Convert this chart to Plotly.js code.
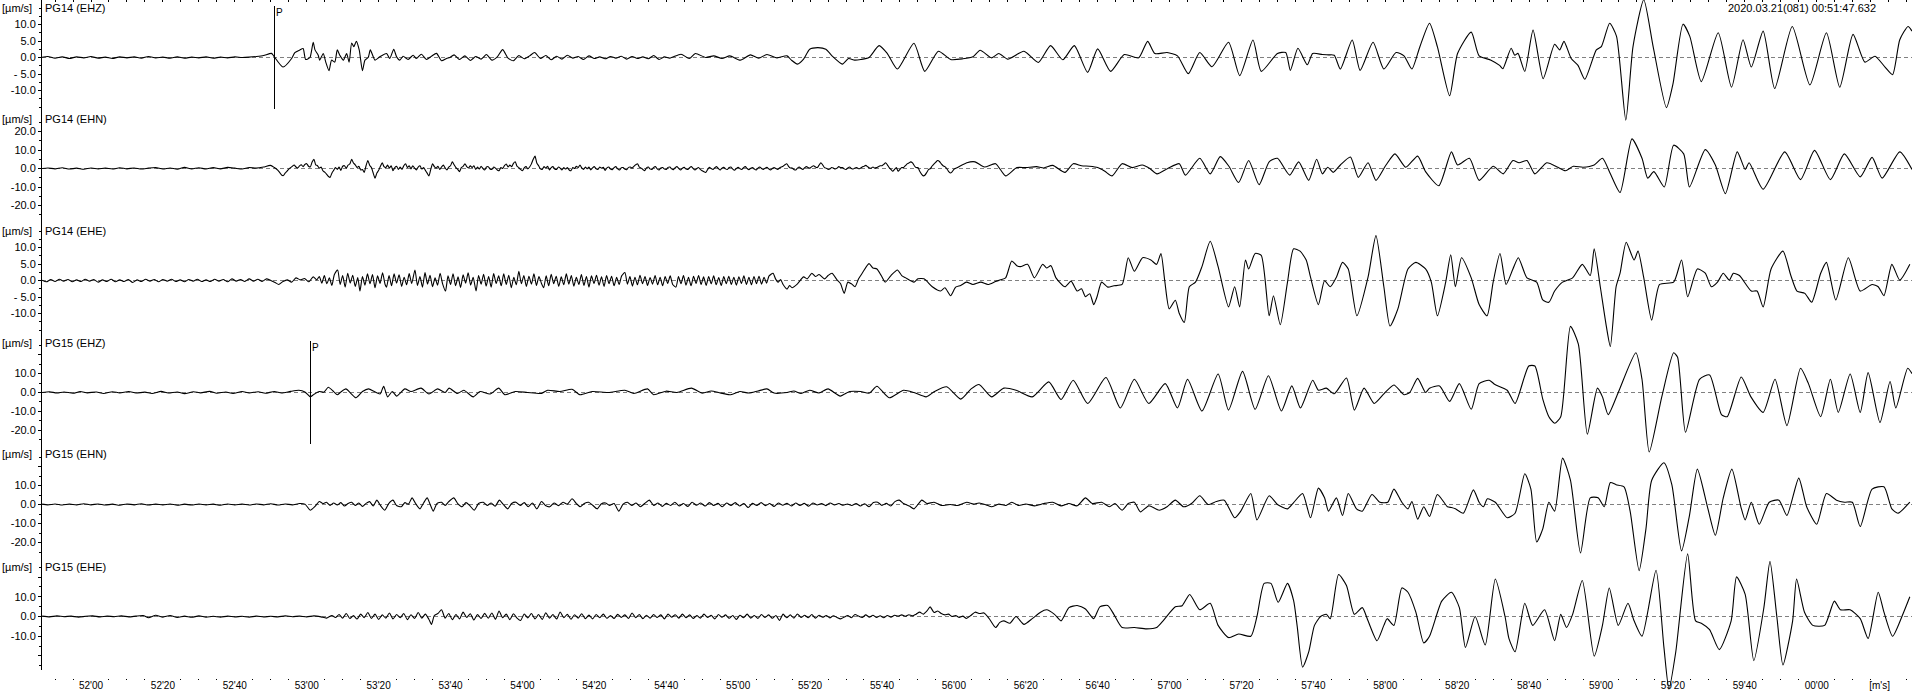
<!DOCTYPE html>
<html><head><meta charset="utf-8">
<script src="https://cdn.plot.ly/plotly-3.0.1.min.js"></script>
<style>html,body{margin:0;padding:0;background:#fff;}#chart{width:1912px;height:691px;}
#chart .shapelayer path{shape-rendering:crispEdges;}</style>
</head><body><div id="chart"></div>
<script>
// ---------------- data (time in s after 00:51:00, velocity in µm/s) ----------------
const CHANNELS = ['PG14 (EHZ)','PG14 (EHN)','PG14 (EHE)','PG15 (EHZ)','PG15 (EHN)','PG15 (EHE)'];
const UNIT_LABEL = '[µm/s]';
const START_STAMP = '2020.03.21(081) 00:51:47.632';

const PG14_EHZ = [[46.4,0.1],[48,0.3],[50,-0.2],[52,0.2],[54,-0.3],[56,0.2],[58,-0.1],[60,0.3],[62,-0.2],[64,0.1],[66,-0.3],[68,0.2],[70,-0.1],[72,0.2],[74,-0.2],[76,0.3],[78,-0.1],[80,0.1],[82,-0.2],[84,0.2],[86,-0.2],[88,0.1],[90,-0.1],[92,0.2],[94,-0.2],[96,0.1],[98,-0.1],[100,0.2],[102,0],[104,0.1],[106,0.3],[108,0.6],
[110.2,1.25],[110.8,0.5],[113.4,-2.9],[115.8,-0.3],[116.7,1.5],[118.1,2.3],[119,2.7],[119.7,-0.6],[120.9,0],[121.8,4.6],[122.3,2.3],[123.2,0.7],[123.6,-0.8],[124.6,1.2],[125.3,-1.4],[126.2,-4],[126.9,-0.8],[127.8,-1.4],[128.5,2.3],[129.2,0.7],[130.2,-0.8],[131.1,1.2],[131.8,-1.4],[132.5,4.4],[133.1,3.3],[133.8,4.9],[134.6,2.3],[135.5,-4],[136.2,-0.8],[137.1,0],[137.7,2.3],[139,-0.8],[140.3,0.2],[142.2,1.2],[143.1,-0.3],[144.2,2.5],[145,0.2],[145.9,-0.8],[146.8,0.4],[148.2,-0.6],[149.6,0.7],[150.5,-0.3],[151.9,1],[153.3,-0.6],[154.7,0.4],[156.1,1.25],[157.5,-1],[158.9,-0.3],[159.8,0],
[161,0.8],[162.5,-0.6],[164,0.5],[165.5,-0.9],[167,0.3],[168.5,-0.5],[170,0.9],[171.5,-0.8],[173,0.2],[174.5,2.4],[176,-0.2],[177.5,-1],[179,0.6],[180.5,-0.4],[182,0.5],[183.4,1.5],[185,-0.3],[186.5,0.6],[188,-0.7],[189.5,0.4],[191,-0.5],[192.5,0.7],[194,-0.2],[195.5,0.3],[197,-0.6],[198.5,0.5],[200,-0.3],[201.5,0.2],[203,-0.4],[204.5,0.3],[206,-0.2],[207.5,0.4],[209,-0.5],[210.5,0.3],[212,-0.3],[213.5,0.2],[215,-0.4],[216.5,0.6],[218,-0.6],[219.5,0.2],[221,-0.2],
[224.1,1],[226.4,-0.3],[228.1,1.2],[231,0],[233.2,0.5],[235.5,-0.3],[237.7,0.5],[240.6,-0.8],[243.4,0.8],[245.7,-0.2],[248,0.9],[250.8,-0.1],[253.6,0.5],[254.8,-0.8],[256.5,-2],[258.2,-0.5],[259.9,2.5],[262.2,3],[264.4,2.5],[266.1,0.5],[269,-2],[270.7,-0.3],[272.4,-0.8],[274.1,-0.6],[276.4,0],[279.2,3.6],[281.5,1.2],[284.3,-3.5],[288.9,4.3],[291.9,-4.2],[295.7,1.9],[299.1,-0.6],[302.5,-0.4],[305.3,0.2],[307.3,2.2],[310.5,-0.1],[312.5,1.2],[315,-0.5],[319.5,1.9],[323.5,-1.5],[326.9,3.6],[330.3,-0.7],[333.5,3.6],[337.2,-4.5],[340,2.6],[343.6,-4.2],[347.4,0.9],[351.4,-0.1],[353.9,4.9],[355.9,1.2],[359.3,1.5],[362.2,0.5],[365.2,-4.9],[368.4,1.5],[371.8,-2.8],[376.4,4.6],[379.5,-5.5],[383.2,5.3],[385.5,-4.2],[390,1.2],[392.3,1.5],[393.6,-3.9],[395.7,2.8],[398.3,-2.2],[399.8,1.2],[402.5,0.9],[404.2,0.8],[405.8,0.7],[407.5,-3.5],[410.8,5.3],[413,-3.9],[416.6,4.6],[419.6,-3.5],[423,1.5],[425.2,0.5],[427.4,-3.5],[429.6,3.2],[432.3,10.4],[434.5,3.2],[437.9,-11.6],[440.1,1.2],[443.9,7.7],[446.1,0.5],[449.4,-0.8],
[451.8,-2.4],[452.7,-3.4],[455,2.8],[456,0.7],[456.9,1.25],[458.8,-4.2],[461.1,8.3],[463.9,-6.4],[467.1,4],[468.5,2.3],[469.7,4.9],[471.7,-0.3],[473.6,-2.4],[475.5,-6.6],[478.7,2.3],[480.1,3.3],[482.4,10.4],[484.3,6.5],[486.9,-19],[488.9,3.3],[491.9,17.5],[494.5,3.3],[498.2,-15.2],[500,-8.1],[502.8,10.1],[504.7,6.4],[507.9,-7.3],[512.6,7.5],[516.3,-9],[519.5,5.4],[521.8,-2.9],[525.1,8],[528.3,-9.4],[533.2,9.4],[538.1,-8.3],[542.7,7.5],[546.4,-9],[550.1,7],[553.4,-1.4],[556.2,0.4],[559,-2.9],[561.1,-5.2],[563.1,5.4],[565.4,9.4],[566.5,8]];

const PG14_EHN = [[46.4,0],[48,0.3],[50,-0.2],[52,0.4],[54,-0.3],[56,0.2],[58,-0.4],[60,0.3],[62,-0.2],[64,0.2],[66,-0.3],[68,0.4],[70,-0.2],[72,0.3],[74,-0.3],[76,0.2],[78,0.5],[80,-0.3],[82,0.3],[84,-0.4],[86,0.6],[88,-0.2],[90,0.4],[92,-0.3],[94,0.5],[96,-0.2],[98,0.6],[100,0.2],[102,-0.3],[104,0.5],[106,0.2],[108,0.8],[109.9,1.7],[111,0.5],
[112,-1],[112.5,-2.2],[113,-3.5],[113.5,-3.8],[114,-2.5],[114.5,-1.5],[115,-0.3],[115.5,0.5],[116,1.2],[116.5,1.9],[117,0.8],[117.5,0.3],[118,1.4],[118.5,2],[119,1],[119.5,2.2],[120,2.6],[120.5,1.2],[121,0.8],[121.5,3.5],[122,5],[122.5,2],[123,1.5],[123.5,0.2],[124,0.8],[124.5,-1.2],[125,-2],[125.5,-3],[126,-4.2],[126.5,-4.8],[127,-2.5],[127.5,-1],[128,0.5],[128.5,-0.5],[129,0.8],[129.5,-1],[130,1.2],[130.5,1.5],[131,0.2],[131.5,1.8],[132,2.5],[132.5,5],[133,3],[133.5,2],[134,0.5],[134.5,1.2],[135,-0.8],[135.5,-0.5],[136,-2.1],[136.5,1.5],[137,4.3],[137.5,1.8],[138,0.5],[138.5,-2.5],[139,-5.2],[139.5,-2.5],[140,-1],[140.5,1.2],[141,3.1],[141.5,1],[142,0.5],[142.5,1.8],[143,0.2],[143.5,1.5],[144,-1.2],[144.5,0.5],[145,1.2],[145.5,-0.5],[146,0.8],[146.5,-0.5],[147,1.5],[147.5,2.6],[148,0.5],[148.5,1.5],[149,-0.2],[149.5,1.5],[150,0.2],[150.5,-0.8],[151,0.8],[151.5,1.5],[152,-0.3],[152.5,0.5],[153,-1],[153.5,-2.5],[154,-4],[154.5,-0.5],[155,2.6],[155.5,1],[156,0.2],[156.5,1.2],[157,-0.5],[157.5,0.8],[158,1.8],[158.5,0.3],[159,-0.8],[159.5,0.8],[160,1.5],[160.5,3.6],[161,2],[161.5,0.5],[162,-0.5],[162.5,-1.7],[163,0.5],[163.5,1.2],[164,2.6],[164.5,1],[165,0.3],[165.5,1.5],[166,0.5],[166.5,1.5],[167,-0.5],[167.5,0.8],[168,-0.3],[168.5,1.2],[169,0],[169.5,-0.8],[170,0.8],[170.5,1],[171,-0.3],[171.5,-0.5],[172,0.8],[172.5,0.2],[173,-0.8],[173.5,-1.2],[174,0.5],[174.5,0],[175,1.5],[175.5,2.4],[176,0.8],[176.5,1.8],[177,1],[177.5,2.8],[178,3.6],[178.5,1.2],[179,0.5],[179.5,-0.5],[180,-1.2],[180.5,0.3],[181,1],[181.5,-0.2],[182,0.8],[182.5,2.5],[183,5],[183.5,6.7],[184,3],[184.5,1.5],[185,-0.2],[185.5,-0.5],[186,1],[186.5,0.2],[187,1.2],[187.5,-0.8],[188,0.5],[188.5,1],[189,-0.3],[189.5,-0.5],[190,0.8],[190.5,0.2],[191,-0.8],[191.5,0.5],[192,-0.3],[192.5,0.5],[193,-0.8],[193.5,-1.2],[194,0.5],[194.5,0],[195,1.2],[195.5,0.5],[196,1.9],[196.5,0.3],[197,-0.5],[197.5,0.8],[198,-0.2],[198.5,0.8],[199,-0.8],[199.5,0.3],[200,1],[200.5,-0.2],[201,-0.5],[201.5,0.8],[202,0.2],[202.5,0.6],[203,-1],[203.5,0.3],[204,0.8],[204.5,-0.3],[205,-0.6],[205.5,0.5],[206,1],[206.5,-0.2],[207,-0.8],[207.5,0.4],[208,0.5],[208.5,-0.4],[209,-0.6],[209.5,0.6],[210,0.8],[210.5,0.2],[211,1.2],[211.5,2],[212,2.6],[212.5,0.8],[213,0.2],[213.5,-0.5],[214,-1.2],[214.5,0.3],[215,0.8],[215.5,-0.2],[216,-0.5],[216.5,0.6],[217,1],[217.5,-0.2],[218,-0.8],[218.5,0.3],[219,0.5],[219.5,-0.3],[220,-0.5],[220.5,0.6],[221,0.8],[221.5,-0.2],[222,-0.6],[222.5,0.5],[223,1],[223.5,0],[224,-0.8],[224.5,0.2],[225,0.6],[225.5,-0.3],[226,-0.5],[226.5,0.5],[227,1],[227.5,0],[228,-0.8],[228.5,0],[229,0.5],[229.5,-0.6],[230,-1.2],[230.5,-1.8],[231,-2.1],[231.5,-0.6],[232,0.6],[232.5,0],[233,-0.5],[233.5,0.4],[234,1],[234.5,0],[235,-0.8],[235.5,0.2],[236,0.6],[236.5,-0.2],[237,-0.5],[237.5,0.5],[238,0.8],[238.5,-0.3],[239,-0.9],[239.5,0],[240,0.6],[240.5,-0.1],[241,-0.5],[241.5,0.5],[242,1],[242.5,0],[243,-0.6],[243.5,0.1],[244,0.5],[244.5,-0.3],[245,-0.8],[245.5,0.2],[246,0.8],[246.5,0],[247,-0.5],[247.5,0.2],[248,0.6],[248.5,-0.2],[249,-0.8],[249.5,0],[250,0.5],[250.5,0],[251,-0.5],[251.5,0.3],[252,0.8],[252.5,1.2],[253,2],[253.5,2.6],[254,1.2],[254.5,0.3],[255,0.3],[255.5,-0.5],[256,-0.8],[256.5,0.2],[257,0.8],[257.5,0],[258,-0.5],[258.5,0.4],[259,1],[259.5,0.5],[260,0.2],[260.5,1],[261,1.5],[261.5,0.8],[262,0.5],[262.5,1.8],[263,3.1],[263.5,2],[264,0.5],[264.5,0.2],[265,-0.5],[265.5,-0.3],[266,0.5],[266.5,0.2],[267,-0.3],[267.5,0.2],[268,1],[268.5,0.5],[269,0.5],[269.5,-0.2],[270,-0.5],[270.5,0.3],[271,0.8],[271.5,0],[272,-0.3],[272.5,0.3],[273,0.5],[273.5,-0.1],[274,0.2],[274.5,0.8],[275,1.2],[275.5,1.7],[276,1],[276.5,0.3],[277,0.2],[277.5,0.8],[278,0.2],[278.5,0.5],[279,1],[279.5,1.5],[280,1.5],[280.5,2.2],[281,3.1],[281.5,2],[282,0.5],[282.5,-0.5],[283,-1.5],[283.5,-0.5],[284,0.5],[284.5,-1.5],[285,-0.5],[285.5,0.5],[286,0.5],[286.5,1.5],[287,2.5],[287.5,3],[288,3.6],[288.5,3],[289,1.5],[289.5,0.5],[290,0.5],[290.5,-1.5],[291,-3],[291.5,-4],[292,-3.5],[292.5,-2],[293,-0.5],[293.5,0],[294,1.5],[294.5,2.5],[295,3.5],[295.5,4.3],[296,3.8],[296.5,2.5],[297,1.5],[297.5,1],[298,0],[298.5,-1.5],[299,-2.4],[299.5,-1.8],[300,-0.5],
[301,0.5],[303.6,3.1],[305.9,3.6],[308.5,0.8],[311.6,2.6],[314.4,-4],[317.5,0.5],[320,0.5],[323,1],[325,0.3],[327.5,1.7],[330.9,-2.1],[333.2,2.6],[335.5,1.5],[337.7,1.2],[340,0.5],[342,-1.5],[344,-4],[346.8,2.6],[349.6,0.5],[352.4,1.9],[354.5,0],[356.5,-2.9],[359.5,0],[362.7,2.6],[364.4,-3.6],[368.4,5.5],[371.3,-2.9],[374.1,6.4],[376.5,1.2],[379.2,-7.6],[382,4.3],[384.9,-8.8],[387.7,3.6],[390,5.5],[393.4,-3.6],[395.9,3.6],[398.7,-6.4],[400.9,5],[402.5,-2.9],[404,0.7],[405.5,-2.1],[407.5,1.9],[410.3,6.2],[412.5,-4.8],[415.2,3.1],[417.4,-6.4],[420.2,1.9],[422.7,7.9],[425.7,0.7],[429,6.7],[431.2,-1.7],[434.9,-9.3],[438.4,9],[440.1,1.9],[443.4,5.5],[446.1,-6.4],[450,1.2],[452.8,-2.9],[455.5,4.3],[457.2,3.1],[459.4,4.3],[461.6,-2.9],[464.9,3.1],[468,0.7],[470.1,-1.2],[472.3,1.2],[475,0.7],[478.1,1.9],[480.4,5.5],[482.6,-2.9],[485.3,-13],[488.6,16],[491.4,5.5],[493,-5.2],[494.7,-1.7],[497.6,-10],[500.2,12.6],[503,7.9],[504.6,-10],[509,10.2],[511.8,1.9],[514.6,-13.6],[517.9,9],[520.1,-0.5],[521.2,3.1],[525.1,-11.2],[531.1,9],[535.5,-6],[539.4,9.8],[543.8,-6],[547.7,7.9],[552.1,-4.5],[555.4,6],[558.2,-5.2],[563.1,9],[566.5,-0.5]];

const PG14_EHE = [[46.4,0.1],[47.6,-0.4],[48.8,0.3],[50,-0.3],[51.2,0.4],[52.4,-0.2],[53.6,0.3],[54.8,-0.4],[56,0.2],[57.2,-0.3],[58.4,0.4],[59.6,-0.2],[60.8,0.3],[62,-0.5],[63.2,0.2],[64.4,-0.3],[65.6,0.4],[66.8,-0.4],[68,0.2],[69.2,-0.3],[70.4,0.3],[71.6,-0.6],[72.8,0.2],[74,-0.3],[75.2,0.4],[76.4,-0.2],[77.6,0.3],[78.8,-0.4],[80,0.3],[81.2,-0.2],[82.4,0.4],[83.6,-0.3],[84.8,0.2],[86,-0.4],[87.2,0.3],[88.4,-0.2],[89.6,0.4],[90.8,-0.3],[92,0.2],[93.2,-0.3],[94.4,0.4],[95.6,-0.2],[96.8,0.3],[98,-0.4],[99.2,0.5],[100.4,-0.2],[101.6,0.3],[102.8,-0.3],[104,0.5],[105.2,-0.2],[106.4,0.4],[107.6,-0.3],[108.8,0.5],[110,0],[111.2,-0.6],[112.2,-1.2],[113.4,-0.3],[114.6,0.2],[115.8,-0.5],[117,0.8],[118.2,0.2],[119.4,0.6],[120.6,-0.4],[121.8,1.1],[122.8,0.2],
[123.5,1.2],[124.2,-0.8],[124.9,1.5],[125.6,-1],[126.3,0.8],[127,-1.5],[127.7,1.8],[128.6,3.2],[129.3,-1.2],[130,1.5],[130.7,-2],[131.4,2.2],[132.1,-0.8],[132.8,1.6],[133.5,-1.8],[134.2,0.9],[134.8,-3.2],[135.5,1.2],[136.2,-1.4],[136.9,2],[137.6,-1],[138.3,1.8],[139,-2.2],[139.7,1.4],[140.4,-0.9],[141.1,2.3],[141.8,-1.2],[142.2,-2],[142.9,1.5],[143.6,-1.6],[144.3,2],[145,-0.8],[145.7,1.7],[146.4,-1.8],[147.1,1],[147.8,-1.3],[148.5,2.1],[149.2,-0.9],[150.1,3.2],[150.8,-1.5],[151.5,1.2],[152.2,-2],[152.9,2.4],[153.6,-1.1],[154.3,1.6],[155,-1.9],[155.7,0.8],[156.4,-1.4],[157.1,2.2],[157.8,-1],[158.6,-3.2],[159.3,1.4],[160,-1.2],[160.7,2],[161.4,-1.6],[162.1,1.1],[162.8,-2.1],[163.5,1.7],[164.2,-0.8],[164.9,2.3],[165.6,-1.4],[166.3,1],[167.1,-3.2],[167.8,1.5],[168.5,-1.1],[169.2,1.9],[169.9,-1.7],[170.6,1.2],[171.3,-2],[172,2.1],[172.7,-0.9],[173.4,1.4],[174.1,-1.6],[174.8,2],[175.5,-1.2],[176.2,1.6],[176.9,-2.2],[177.6,1],[178.3,-1.3],[179,2.8],[179.7,-1],[180.4,1.5],[181.1,-1.8],[181.8,1.3],[182.5,-1.1],[183.2,2],[183.9,-1.5],[184.6,1.2],[185.3,-0.9],[185.9,-2.2],[186.6,1.4],[187.3,-1.6],[188,1.9],[188.7,-1],[189.4,1.3],[190.1,-1.8],[190.8,1.1],[191.5,-1.3],[192.2,2],[192.9,-1.1],[193.6,1.5],[194.3,-1.7],[195,1],[195.7,-1.2],[196.4,1.8],[197.1,-1.5],[197.8,1.2],[198.5,-2],[199.2,1.4],[199.9,-0.9],[200.6,1.6],[201.3,-1.4],[202,1.1],[202.7,-1.8],[203.4,1.5],[204.1,-1],[204.8,1.3],[205.5,-1.6],[206.2,1],[206.9,-1.2],[207.6,1.4],[208.5,2.4],[209.2,-1.1],[209.9,1.2],[210.6,-1.7],[211.3,1],[212,-1.3],[212.7,1.6],[213.4,-1],[214.1,1.2],[214.8,-1.5],[215.5,0.9],[216.2,-1.1],[216.9,1.5],[217.6,-1.3],[218.3,1],[219,-1.6],[219.7,1.2],[220.4,-0.9],[221.1,1.4],[221.8,-1.2],[222.7,-2],[223.4,1.2],[224.1,-1],[224.8,1.5],[225.5,-1.4],[226.2,1],[226.9,-1.6],[227.6,1.3],[228.3,-0.9],[229,1.5],[229.7,-1.2],[230.4,1.1],[231.1,-1.5],[231.8,1.2],[232.5,-1],[233.2,1.4],[233.9,-1.3],[234.6,0.9],[235.3,-1.5],[236,1.2],[236.7,-1],[237.4,1.3],[238.1,-1.2],[238.8,1],[239.5,-1.4],[240.2,1.1],[240.9,-0.9],[241.6,1.4],[242.3,-1.2],[243,1],[243.7,-1.3],[244.4,1.2],[245.1,-1],[245.8,1.3],[246.5,-1.1],[247.2,1],[247.9,-0.8],[248.6,1.4],[249.7,2.2],[250.4,0.5],[251.1,-0.5],[251.8,0.3],[252.5,-1.2],[253.6,-2.6],[254.3,-1.5],[255,-2.2],
[256.5,-1],[258.2,1.1],[259.2,0.5],[260.5,2.2],[261.5,1.2],[262.5,1.8],[264,0.5],[265,1.5],[266.1,2.2],[267.5,0.2],[268.5,-1],[269.5,-3.9],[270.5,-0.5],[271.5,-1],[272.5,-1.9],[273.5,0.5],[274.5,2.2],[276.4,5.1],[277.5,3.8],[278.6,3.5],[279.8,1.5],[280.9,-0.5],[282.5,1.5],[284.3,3.2],[285.5,1.5],[286.6,0.8],[288.9,-0.5],[290,0.5],[291.7,0.5],[294,-1.9],[296.3,-3.2],[297.5,-2.2],[299.1,-4.6],[300.5,-2],[301.9,-1.5],[303.5,-0.5],[305.3,-1.2],[307.5,-0.5],[309.5,-1.2],[311.6,-0.3],[313,0.2],[314.4,0.8],[316.1,5.9],[317.5,4.5],[318.5,4.2],[320.5,4.9],[322.4,0.8],[324.7,4.9],[325.8,3.8],[327,4.5],[328.4,0.8],[330.9,-1.9],[332.6,-0.2],[334.3,-3.2],[335.5,-2.5],[336.6,-4.9],[337.8,-4],[338.9,-7.3],[339.8,-5],[341.1,-0.5],[342.8,-2],[344.5,-1.6],[346.8,-1.2],[348.5,6.9],[350.2,2.8],[352.5,6.9],[354.8,6.2],[356.4,4.9],[357.6,8.2],[358.7,-0.5],[359.9,-8.6],[361.6,-6],[362.7,-10],[364.1,-12.7],[365.5,-1.9],[367.2,-0.5],[369,4.2],[371.3,11.9],[373.5,4.2],[376.4,-8],[378.1,-1.9],[379.5,-8],[381.1,6.2],[382,3.5],[383.8,8.2],[385.5,7.6],[387.7,-10.7],[388.9,-4.6],[390.8,-13.4],[392.8,-0.5],[394.5,9.6],[396.3,8.9],[398,6.2],[399.2,1],[401.4,-7.3],[403.1,-0.1],[404.7,-1.9],[406.4,1],[408.1,5.5],[409.7,3.5],[412.1,-10.7],[415.2,1],[417.4,13.6],[419.6,-1.9],[421.3,-13.8],[423.5,-8.6],[426.3,3.5],[428.5,5.5],[431.2,3.5],[432.8,-0.5],[434.5,-10.7],[436.8,-0.5],[438.2,7.8],[439.5,-1.9],[441.2,6.9],[443.9,0.8],[446.1,-7.3],[448.3,-10.7],[450,-0.5],[451.9,8.2],[453.6,-1.2],[455.5,3.5],[457,6.9],[459.4,0.8],[462.1,-0.5],[463.8,-5.9],[465.5,-6.6],[467.1,-3.2],[469.3,-0.5],[472.1,0.8],[474.8,4.9],[477,1.5],[478.1,9.6],[479.8,-1.9],[481.5,-14],[482.6,-20],[484.2,-1.9],[485.3,2.2],[487,11.6],[489.2,6.2],[490.3,8.9],[491.9,0.8],[494.1,-12],[496.3,-1.2],[500.2,-0.5],[502.4,6.2],[504.1,-4.9],[506.8,3.5],[509,2.2],[510.7,-1.9],[512.4,-0.5],[514,2.2],[515.7,0.1],[516.8,2.2],[518.5,1.5],[521.8,-3.2],[523.4,-3.2],[525.1,-8],[527.3,3.5],[530.6,8.9],[532.8,1.5],[534.5,-3.2],[536.7,-3.9],[538.6,-6.6],[541.1,2.2],[542.7,5.5],[545.3,-5.9],[548.8,6.9],[552.1,-3.2],[555.4,-1.2],[557.1,-1.9],[558.7,-4.6],[560.9,4.9],[563.1,0.1],[565.9,4.9]];

const PG15_EHZ = [[46.4,0],[48.5,0.4],[50.5,-0.3],[52.5,0.3],[55,-0.4],[57,0.5],[59,-0.2],[61.5,0.3],[63.5,-0.5],[66,0.4],[68,-0.2],[70.5,0.5],[72.5,-0.3],[75,0.2],[77,-0.5],[79.5,0.6],[81.5,-0.3],[84,0.3],[86,-0.6],[88.5,0.4],[90.5,-0.2],[93,0.6],[95,-0.4],[97.5,0.3],[99.5,-0.5],[102,0.5],[104,-0.2],[106.5,0.4],[108.5,-0.4],[111,0.5],[113,-0.3],[115.5,0.6],[117.8,1.2],[119.5,0.3],[121,-2.3],[122,-1],[123.5,0.5],[124.8,0.2],[126,2.8],[127.5,0.5],[128.5,-1.2],[129.5,0.3],[130.9,1.9],[132.2,-0.3],[133.7,-2.8],[135.5,0.5],[137.2,1.9],[138.8,0.5],[140.4,-0.8],[141.4,3.3],[142.5,-2.3],[143.8,0.5],[145,-1.9],[147.3,1.9],[149,0.5],[151.8,2.3],[154,-0.8],[156.4,1.9],[158.5,0],[159.6,2.3],[161.9,-0.5],[163.7,1.2],[166.3,-2.3],[168.2,0.5],[171,-0.8],[173.4,2.3],[175.1,-1.2],[178,0.5],[181.4,0],[185.3,-0.5],[187,1.2],[190.4,0.5],[193.8,1.7],[196,-1.2],[199.4,0.5],[203.9,0],[208.5,1.2],[211,-0.5],[214.8,1.9],[216.5,-1.2],[219.9,0.7],[223,0],[227,2.3],[230,-0.3],[232.5,0.8],[235,-0.2],[237.7,-1.2],[240.5,0.5],[243,-0.3],[245.5,0.8],[248,1.9],[250,-0.3],[253.6,0],[255.5,0.8],[257.5,-0.5],[259.9,1.2],[262.5,-0.3],[265,1.9],[268.4,-1.9],[271,0.5],[274.1,0.5],[276.5,-0.3],[278.6,3.3],[282,-2.8],[286,1.2],[288.9,0],[292.3,-2.3],[294.6,0.5],[298,3],[301.9,-3.5],[304.8,1.9],[307,4.2],[310.5,-2.3],[313.9,2.3],[317.3,1.2],[321.8,-2.3],[326.4,5.6],[329.8,-3.7],[333.2,6.5],[337.2,-5.8],[342.3,7.9],[346.3,-8.2],[350.2,7],[354.2,-5.8],[358.8,4.7],[362.2,-8.2],[365,7],[369,-9.8],[373.5,9.8],[376.4,-9.3],[380.3,11.2],[383.8,-8.9],[387.5,8.9],[391.1,-9.8],[394,3.5],[396.4,-8.2],[399.8,6.5],[401.4,1.2],[403.6,2.3],[405.8,-0.7],[409.2,7.7],[411.4,-9.3],[414.1,2.3],[416.9,-5.8],[419.6,-0.7],[422.4,4],[425.2,-1.2],[426.8,0],[429,7.5],[431.2,0],[432.3,2.3],[435.1,3.5],[437.9,-4.7],[440.6,4.7],[443.9,-8.9],[446.1,4.7],[448.9,6.5],[450.5,4.2],[453.9,1.2],[456.1,-5.8],[459.9,14],[461.6,14],[463.8,-3.5],[465.5,-12.8],[467.1,-16.3],[468.8,-12.8],[471.5,35],[473.7,25.6],[476.2,-22.1],[479,2.3],[480.4,-2.3],[482,-11.7],[484.8,0],[489.7,21],[491.4,7],[493.4,-31.5],[496.9,-2.3],[500.2,21],[501.3,18.7],[503.5,-21],[507.4,7],[510.2,9.3],[513.5,-11.7],[515.1,-12.8],[519,8.2],[521.7,-2.3],[525.1,-10.5],[528.4,7],[531.7,-17.5],[535.5,12.8],[537.7,4.7],[541.1,-12.8],[543.8,7],[546,-10.5],[549.3,9.8],[552.1,-10.5],[554.3,10.5],[557.6,-15.9],[560.4,5.8],[562,-8.2],[565.3,12.8],[566.5,10]];

const PG15_EHN = [[46.4,0.2],[48,-0.2],[50,0.3],[52,-0.3],[54,0.2],[56,-0.2],[58,0.4],[60,-0.2],[62,0.3],[64,-0.3],[66,0.2],[68,-0.4],[70,0.3],[72,-0.2],[74,0.4],[76,-0.3],[78,0.2],[80,-0.2],[82,0.3],[84,-0.4],[86,0.2],[88,-0.3],[90,0.3],[92,-0.2],[94,0.2],[96,-0.4],[98,0.3],[100,-0.2],[102,0.2],[104,-0.3],[106,0.3],[108,-0.2],[110,0.4],[112,-0.3],[114,0.3],[116,-0.2],[118,0.5],[119.5,0.2],[121,-3],[122.3,-1],[123.5,1.6],[124.5,0.5],[125.5,1.2],[126.5,-0.5],[127.5,0.8],[128.5,-0.3],[129.5,1],[130.5,-0.8],[131.5,0.5],[132.5,1.2],[133.5,-0.5],[134.5,0.8],[135.5,-1],[136.5,0.6],[137.5,1.5],[138.5,-0.8],[139.5,2.3],[140.5,-0.5],[141.7,-3],[142.8,0.5],[144,2.3],[145,-0.5],[146.3,-1.2],[147.3,1],[148.3,0.2],[149.3,3.5],[150.3,0.5],[151.5,-2.3],[152.5,0.8],[153.5,3.5],[154.3,0.2],[155.2,-3.5],[156.2,0.5],[157.5,1.2],[158.5,-0.5],[159.5,1.5],[160.9,3.5],[162,0.5],[163.2,-1.2],[164.3,1],[165.3,-0.5],[166.6,-3],[167.8,0.5],[169.1,1.2],[170.2,-0.5],[171.3,0.8],[172.4,-0.9],[173.6,2.3],[174.6,0.2],[175.9,-2.3],[177,0.5],[178.2,1.2],[179.4,-0.5],[180.5,1],[181.6,-1.2],[182.8,0.8],[184,-2.3],[185.3,1.6],[186.4,-0.5],[187.6,-1.2],[188.8,0.8],[190,-0.6],[191.3,1.2],[192.5,0.2],[193.8,3],[195,0.5],[196.1,-1.2],[197.2,0.5],[198.4,1.2],[199.6,-0.5],[200.8,-2.3],[201.9,0.3],[203.1,0.8],[204.2,-0.5],[205.5,0.5],[206.8,-3.5],[208,0.2],[209.2,1.2],[210.4,-0.5],[211.6,0.8],[212.8,-1.2],[214,0.5],[215.3,2.3],[216.5,-0.5],[217.7,0.8],[218.9,-1],[220,0.6],[221.2,-0.5],[222.4,1.2],[223.6,-0.8],[224.8,0.5],[226,-1],[227.2,1.2],[228.4,-0.4],[229.6,0.8],[230.8,-0.8],[232,1],[233.2,-0.5],[234.4,0.6],[235.6,-1.2],[236.8,0.8],[238,-0.5],[239.2,1],[240.4,-0.8],[241.6,0.5],[242.8,-1.6],[244,0.6],[245.2,-0.5],[246.4,1],[247.6,-0.6],[248.8,0.5],[250,-1],[251.2,0.8],[252.4,-0.4],[253.6,0.6],[254.8,-0.8],[256,0.8],[257.2,-0.5],[258.4,0.6],[259.6,-0.9],[260.8,0.8],[262,-0.3],[263.2,0.5],[264.4,-0.6],[265.6,0.8],[266.8,-0.3],[268,0.5],[269.2,-0.4],[270.4,0.3],[271.6,-0.5],[272.8,0.5],[274,-0.8],[275.2,0.4],[276.4,-1.2],[277.6,1],[278.8,1.2],[280,-0.5],[281.2,0.6],[282.4,-0.8],[283.6,1.5],[284.8,2.3],[286,0.5],[287.6,-0.8],[288.9,-2.3],[291.1,2.3],[292.5,0.5],[294.5,1.2],[296.5,-0.5],[299,0],[301,-0.5],[303.6,1.2],[305.5,0.2],[307,0.8],[309,-0.2],[310.5,-1.2],[312.5,0.2],[314.5,-0.5],[316.1,1.2],[318,-0.5],[320,0.3],[322.5,-0.7],[325,0.5],[327.5,1.2],[329.8,-0.7],[332,0.5],[334.3,-0.7],[336.6,3.5],[338.5,0.5],[341.1,1.2],[343.3,-1.2],[344.8,0.5],[346.8,-3],[348.5,0.5],[350.2,1.2],[351.9,-3.9],[354.2,-0.7],[357.1,-3],[359.3,-1.2],[361.6,2.3],[363.9,-1.2],[366.1,0.5],[368.4,4.6],[370.7,0],[373,1.6],[375.2,2.3],[378.1,-7],[379.8,-3.5],[382.6,5.8],[384.3,-8.1],[387.7,4.6],[390,0],[392.8,-2.3],[394.5,1],[397,5.8],[399.2,-7],[401.4,8.6],[403.1,3.5],[404.2,-3.5],[406.4,3.5],[408.1,-5.8],[409.7,5.8],[412,-2.3],[413.6,-3.5],[416.3,5.3],[418.5,1.2],[420.7,1.2],[422.4,8.1],[424.6,1.2],[426.3,-2.3],[427.4,1.6],[429,-7.7],[430.7,-1.2],[432.3,-6.3],[434.5,5.3],[437.3,-1.2],[438.4,-1.6],[439.5,-2.3],[441.7,-4.6],[444.5,7.7],[446.1,1.2],[447.3,-1.2],[448.4,3],[450.6,1.2],[453.9,-7],[456.1,-4.6],[458.8,16.2],[460.5,8.1],[462.1,-19.7],[463.8,-12.8],[465.5,1.2],[467.1,-3.5],[469.3,24.4],[471.5,12.8],[474.3,-25.5],[477,3.5],[479.2,3.5],[480.9,-1.2],[482.6,11.6],[484.2,10.4],[486.4,9.3],[488.1,-3.5],[490.6,-34.8],[492.5,-12.8],[494.1,12.8],[497.5,22],[499.7,10.4],[502.4,-24.4],[504.6,-5.8],[506.8,18.6],[509.6,-1.2],[511.8,-16.2],[514,3.5],[516.4,18.6],[518.9,-1.2],[520.1,-8.1],[521.8,1.2],[524,-10.4],[526.8,1.2],[529.5,2.3],[531.7,-5.8],[535,13.9],[537.2,-1.2],[540,-10.4],[542.7,5.8],[545.5,2.3],[547.7,1.2],[549.9,1.2],[552.1,-11.6],[555.4,8.1],[558.7,9.3],[560.9,-2.3],[562.6,-4.6],[565.9,1.2]];

const PG15_EHE = [[46.4,0.2],[48.5,-0.2],[50.5,0.3],[52.5,-0.1],[54.5,0.2],[56.5,-0.3],[58.5,0.1],[60.5,0.3],[62.5,-0.2],[64.5,0.2],[66.5,-0.1],[68.5,0.3],[70.5,-0.2],[72.5,0.2],[74.5,0.5],[76,-0.6],[78,0.6],[80,-0.3],[82,0.5],[84,-0.5],[86,0.2],[88,-0.4],[90,0.3],[92,-0.3],[94,0.1],[96,-0.3],[98,0.2],[100,-0.2],[102,0.1],[104,-0.3],[106,0.2],[108,-0.2],[110,0.1],[112,-0.2],[114,0.3],[116,-0.1],[118,0.2],[120,-0.2],[122,0.3],[124,-0.2],[125.5,-0.8],[127,0.5],[128,-0.5],[129,1],[130,-0.8],[131,1.5],[132,-1],[133,0.5],[134,-1.3],[135,1.2],[136,-0.6],[137,2],[138,-1],[139,1.2],[140,-1.5],[141,0.8],[142,-0.8],[143,1.8],[144,-1.2],[145,1],[146,-0.6],[147,1.5],[148,-1.6],[149,0.9],[150,-1],[151,2],[152,-0.8],[153,1.2],[154,-1.5],[154.7,-4],[155.5,0.5],[156.5,1.5],[157.5,3.4],[158.5,-0.8],[159.5,1.5],[160.5,-1.6],[161.5,1],[162.5,-1.2],[163.5,2.2],[164.5,-0.5],[165.5,1.4],[166.5,-1.8],[167.5,1],[168.5,-1],[169.5,1.6],[170.5,-0.9],[171.5,1.8],[172.5,-1.4],[173.5,2.8],[174.5,-0.6],[175.5,1.2],[176.5,-1.6],[177.5,1.4],[178.5,-0.8],[179.5,-2],[180.5,1.3],[181.5,-0.7],[182.5,1.5],[183.5,-1.2],[184.5,1],[185.5,-1.5],[186.5,1.9],[187.5,-0.8],[188.5,1],[189.5,-1.3],[190.5,2.3],[191.5,-0.6],[192.5,1.1],[193.5,-1.4],[194.5,0.9],[195.5,-0.8],[196.5,1.4],[197.5,-1.1],[198.5,0.7],[199.5,-1.2],[200.5,1],[201.5,-0.6],[202.5,1.2],[203.5,-0.9],[204.5,0.5],[205.5,-1],[206.5,1.1],[207.5,-0.5],[208.5,0.8],[209.5,-1],[210.5,1.8],[211.5,-0.6],[212.5,1],[213.5,-1.1],[214.5,0.6],[215.5,-0.8],[216.5,1],[217.5,-0.5],[218.5,0.8],[219.5,-1.2],[220.5,1.2],[221.5,-0.4],[222.5,0.9],[223.5,-0.8],[224.5,1.2],[225.5,-0.6],[226.5,0.8],[227.5,-1],[228.5,0.5],[229.5,-0.8],[230.5,1.2],[231.5,-0.5],[232.5,0.6],[233.5,-1.2],[234.5,1],[235.5,-0.4],[236.5,0.8],[237.5,-0.9],[238.5,0.5],[239.5,-1.5],[240.5,0.6],[241.5,-0.6],[242.5,1.2],[243.5,-0.8],[244.5,0.5],[245.5,-1],[246.5,1],[247.5,-0.5],[248.5,0.8],[249.5,-0.9],[250.5,0.5],[251.5,-2],[252.5,1.2],[253.5,-0.6],[254.5,0.8],[255.5,-0.8],[256.5,1.3],[257.5,-0.5],[258.5,0.6],[259.5,-0.6],[260.5,1],[261.5,-0.8],[262.5,0.6],[263.5,-0.4],[264.5,0.5],[265.5,-0.7],[266.5,0.4],[267.5,-0.5],[268.5,-1.2],[269.5,-0.3],[270.5,0.5],[271.5,-0.6],[272.5,1],[273.5,0.2],[274.5,-0.5],[275.5,0.8],[276.5,-0.3],[277.5,0.6],[278.5,-0.5],[279.5,0.4],[280.5,-0.6],[281.5,0.5],[282.5,-0.3],[283.5,0.6],[284.5,0.2],[285.5,0.8],[286.5,0.1],[287.5,0.9],[288.5,0.3],[289.5,1.2],[290.5,2.2],[291.5,1.2],[292.5,2.8],[293.4,4.9],[294.5,2],[295.5,2.8],[296.5,1.5],[297.5,0.8],[298.5,1.2],[299.5,0],[300.5,0.5],[301.5,-0.5],[302.5,0.2],[303.5,-1],[304.7,0.5],[305.9,2.2],[307.2,1.5],[308.4,1.8],[309.8,-1],[311.6,-5.6],[312.8,-3],[313.9,-2.2],[315.6,-3.4],[317.3,0],[319.5,-4],[321.8,-1.1],[324.1,2.2],[325.8,3.4],[328,1.1],[329.8,-2.2],[332,4.5],[334.3,5.6],[336.6,3.8],[338.9,-1.1],[340.6,4.9],[342.8,5.6],[344.5,1.1],[346.8,-5.6],[350.2,-5.6],[353.6,-6.3],[356.4,-5.6],[358.2,-2.2],[361.6,4.9],[363.5,5.5],[365.6,11.2],[368.4,3.4],[371.3,6.7],[373.5,-4.5],[376.4,-10.7],[379.2,-8.9],[382.6,-10],[384.3,0],[386.3,16.8],[388.2,16.8],[390.2,7.2],[392.8,16.8],[394.5,8],[395.5,-5],[397,-25.7],[398.7,-18],[400.3,-4.5],[402,0],[403.6,1.1],[404.7,-1.1],[407,21.3],[409.2,15.7],[411.4,1.1],[413.6,4.5],[415.2,-2.2],[417.7,-12.3],[419.6,-4.5],[420.5,-1.1],[422.4,-4.5],[424.6,14.5],[426.3,12.3],[428.5,2.2],[430.7,-13.4],[432.3,-10],[435.7,7.8],[438.4,12.3],[440.6,4.5],[442.3,-15.7],[445,0],[447.8,-14.5],[450.6,19],[453.3,0],[454.4,-11.2],[456.1,-17.9],[458.8,6.7],[461,-4.5],[464.3,3.4],[467.1,-12.3],[468.8,1.1],[470.4,-5.6],[472.1,1.1],[474.8,18.3],[478.1,-20.1],[480.4,-4.5],[482.3,14.5],[484.8,-4.5],[487.5,6.7],[489.2,-2.2],[491.4,-10],[495.3,23.5],[497.5,-15.7],[498.9,-36.9],[500.8,-17.9],[504.1,31.8],[506.3,-2.2],[507.9,-3.4],[510.2,-6.7],[512.9,-16.8],[516.2,-2.2],[517.7,20.1],[520.1,11.2],[522.5,-22.4],[525.3,4.5],[527,28],[528.9,0],[530.6,-24.6],[533.3,-2.2],[534.4,19],[536.6,2.2],[538.9,-4.5],[542.2,-4.5],[544.9,7.8],[546.6,3.4],[549.3,3.4],[552.1,-1.1],[554.3,-11.2],[557.1,12.3],[558.7,2.2],[561.1,-10],[563.7,0],[565.9,10]];

const SERIES = [PG14_EHZ, PG14_EHN, PG14_EHE, PG15_EHZ, PG15_EHN, PG15_EHE];

// phase picks
const PICK_TIMES = [110.9, 121.0];
const PICK_CHANNEL = [0, 3];
const PICK_LABELS = ['P', 'P'];

// tick labels
const X_TICK_VALUES = [60,80,100,120,140,160,180,200,220,240,260,280,300,320,340,360,380,400,420,440,460,480,500,520,540,557.5];
const X_TICK_LABELS = ["52'00","52'20","52'40","53'00","53'20","53'40","54'00","54'20","54'40","55'00","55'20","55'40","56'00","56'20","56'40","57'00","57'20","57'40","58'00","58'20","58'40","59'00","59'20","59'40","00'00","[m's]"];
const Y_TICK_VALUES = [[10,5,0,-5,-10],[20,10,0,-10,-20],[10,5,0,-5,-10],[20,10,0,-10,-20],[20,10,0,-10,-20],[20,10,0,-10,-20]];
const Y_TICK_LABELS = [["10.0","5.0","0.0","- 5.0","-10.0"],["20.0","10.0","0.0","-10.0","-20.0"],["10.0","5.0","0.0","- 5.0","-10.0"],["","10.0","0.0","-10.0","-20.0"],["","10.0","0.0","-10.0","-20.0"],["","10.0","0.0","-10.0",""]];
const Y_MINOR_VALUES = [[15,12.5,7.5,2.5,-2.5,-7.5,-12.5,-15],[25,15,5,-5,-15,-25],[15,12.5,7.5,2.5,-2.5,-7.5,-12.5,-15],[25,15,5,-5,-15,-25],[25,15,5,-5,-15,-25],[25,15,5,-5,-15,-25]];

// ---------------- layout geometry ----------------
const W = 1912, H = 691, LEFT = 42;
const ZERO_PX = [57.5, 168.5, 280.5, 392.5, 504.5, 616.5];
const PX_PER_UNIT = [3.3, 1.85, 3.3, 1.89, 1.9, 1.97];
const X_RANGE = [46.37, 566.5];
const FAMILY = 'Arial, Liberation Sans, sans-serif';
const FONT = {family: FAMILY, size: 11, color: '#000'};
const XFONT = {family: FAMILY, size: 10, color: '#000'};

const traces = SERIES.map((s, i) => ({
  type: 'scatter', mode: 'lines',
  x: s.map(p => p[0]), y: s.map(p => p[1]),
  xaxis: i === 0 ? 'x2' : 'x',
  yaxis: i === 0 ? 'y' : 'y' + (i + 1),
  line: {color: '#000', width: 1.1, shape: 'spline', smoothing: 0.6},
  hoverinfo: 'skip', showlegend: false
}));

const dots = [];
for (let t = 50; t <= 565; t += 5) if (t % 20 !== 0) dots.push(t);
const topDots = [];
for (let t = 50; t <= 565; t += 5) topDots.push(t);

const layout = {
  width: W, height: H,
  margin: {l: LEFT, r: 0, t: 0, b: 0},
  paper_bgcolor: '#fff', plot_bgcolor: 'rgba(0,0,0,0)',
  showlegend: false, hovermode: false,
  font: FONT,
  xaxis: {
    domain: [0, 1], range: X_RANGE, anchor: 'free', position: 13 / H,
    showgrid: false, zeroline: false, showline: false,
    tickmode: 'array', tickvals: X_TICK_VALUES, ticktext: X_TICK_LABELS,
    ticks: '', tickfont: XFONT,
    minor: {tickmode: 'array', tickvals: dots, ticks: 'outside', ticklen: 1, tickwidth: 1, tickcolor: '#000', showgrid: false}
  },
  xaxis2: {
    overlaying: 'x', side: 'top', anchor: 'y', range: X_RANGE,
    showgrid: false, zeroline: false, showline: false, showticklabels: false,
    tickmode: 'array', tickvals: topDots, ticks: 'inside', ticklen: 2, tickwidth: 1, tickcolor: '#000'
  },
  shapes: [], annotations: []
};

for (let i = 0; i < 6; i++) {
  const z = ZERO_PX[i], s = PX_PER_UNIT[i];
  const key = i === 0 ? 'yaxis' : 'yaxis' + (i + 1);
  const ax = {
    domain: [0, 1], range: [-(H - z) / s, z / s], anchor: 'x', side: 'left',
    showgrid: false, zeroline: false, showline: false,
    tickmode: 'array', tickvals: Y_TICK_VALUES[i], ticktext: Y_TICK_LABELS[i],
    ticks: 'outside', ticklen: 3, tickwidth: 1, tickcolor: '#000', tickfont: FONT,
    minor: {tickmode: 'array', tickvals: Y_MINOR_VALUES[i], ticks: 'outside', ticklen: 2, tickwidth: 1, tickcolor: '#000', showgrid: false}
  };
  if (i > 0) ax.overlaying = 'y';
  layout[key] = ax;
  const yref = i === 0 ? 'y' : 'y' + (i + 1);
  layout.shapes.push({type: 'line', layer: 'below', xref: 'paper', x0: 0, x1: 1, yref: yref, y0: 0, y1: 0,
    line: {color: '#808080', width: 1, dash: '4px,3px'}});
  const yLab = 1 - (z - 50) / H;
  layout.annotations.push({xref: 'paper', yref: 'paper', x: 0, y: yLab, xshift: -41, xanchor: 'left', yanchor: 'middle',
    text: UNIT_LABEL, showarrow: false, font: FONT, borderpad: 0});
  layout.annotations.push({xref: 'paper', yref: 'paper', x: 0, y: yLab, xshift: 2, xanchor: 'left', yanchor: 'middle',
    text: CHANNELS[i], showarrow: false, font: FONT, borderpad: 0});
}

// left axis line
layout.shapes.push({type: 'line', xref: 'paper', yref: 'paper', x0: -0.5 / (W - LEFT), x1: -0.5 / (W - LEFT), y0: (H - 670) / H, y1: 1,
  line: {color: '#000', width: 1}});

// picks
PICK_TIMES.forEach((t, k) => {
  const z = ZERO_PX[PICK_CHANNEL[k]];
  layout.shapes.push({type: 'line', xref: 'x', yref: 'paper', x0: t, x1: t, y0: 1 - (z + 51) / H, y1: 1 - (z - 52) / H,
    line: {color: '#000', width: 1}});
  layout.annotations.push({xref: 'x', yref: 'paper', x: t, y: 1 - (z - 45) / H, xshift: 1, xanchor: 'left', yanchor: 'middle',
    text: PICK_LABELS[k], showarrow: false, font: {family: FAMILY, size: 10, color: '#000'}, borderpad: 0});
});

// start stamp
layout.annotations.push({xref: 'paper', yref: 'paper', x: (1877 - LEFT) / (W - LEFT), y: 1 - 8 / H, xanchor: 'right', yanchor: 'middle',
  text: START_STAMP, showarrow: false, font: FONT, borderpad: 0});

Plotly.newPlot('chart', traces, layout, {staticPlot: true, displayModeBar: false});
</script>
</body></html>
